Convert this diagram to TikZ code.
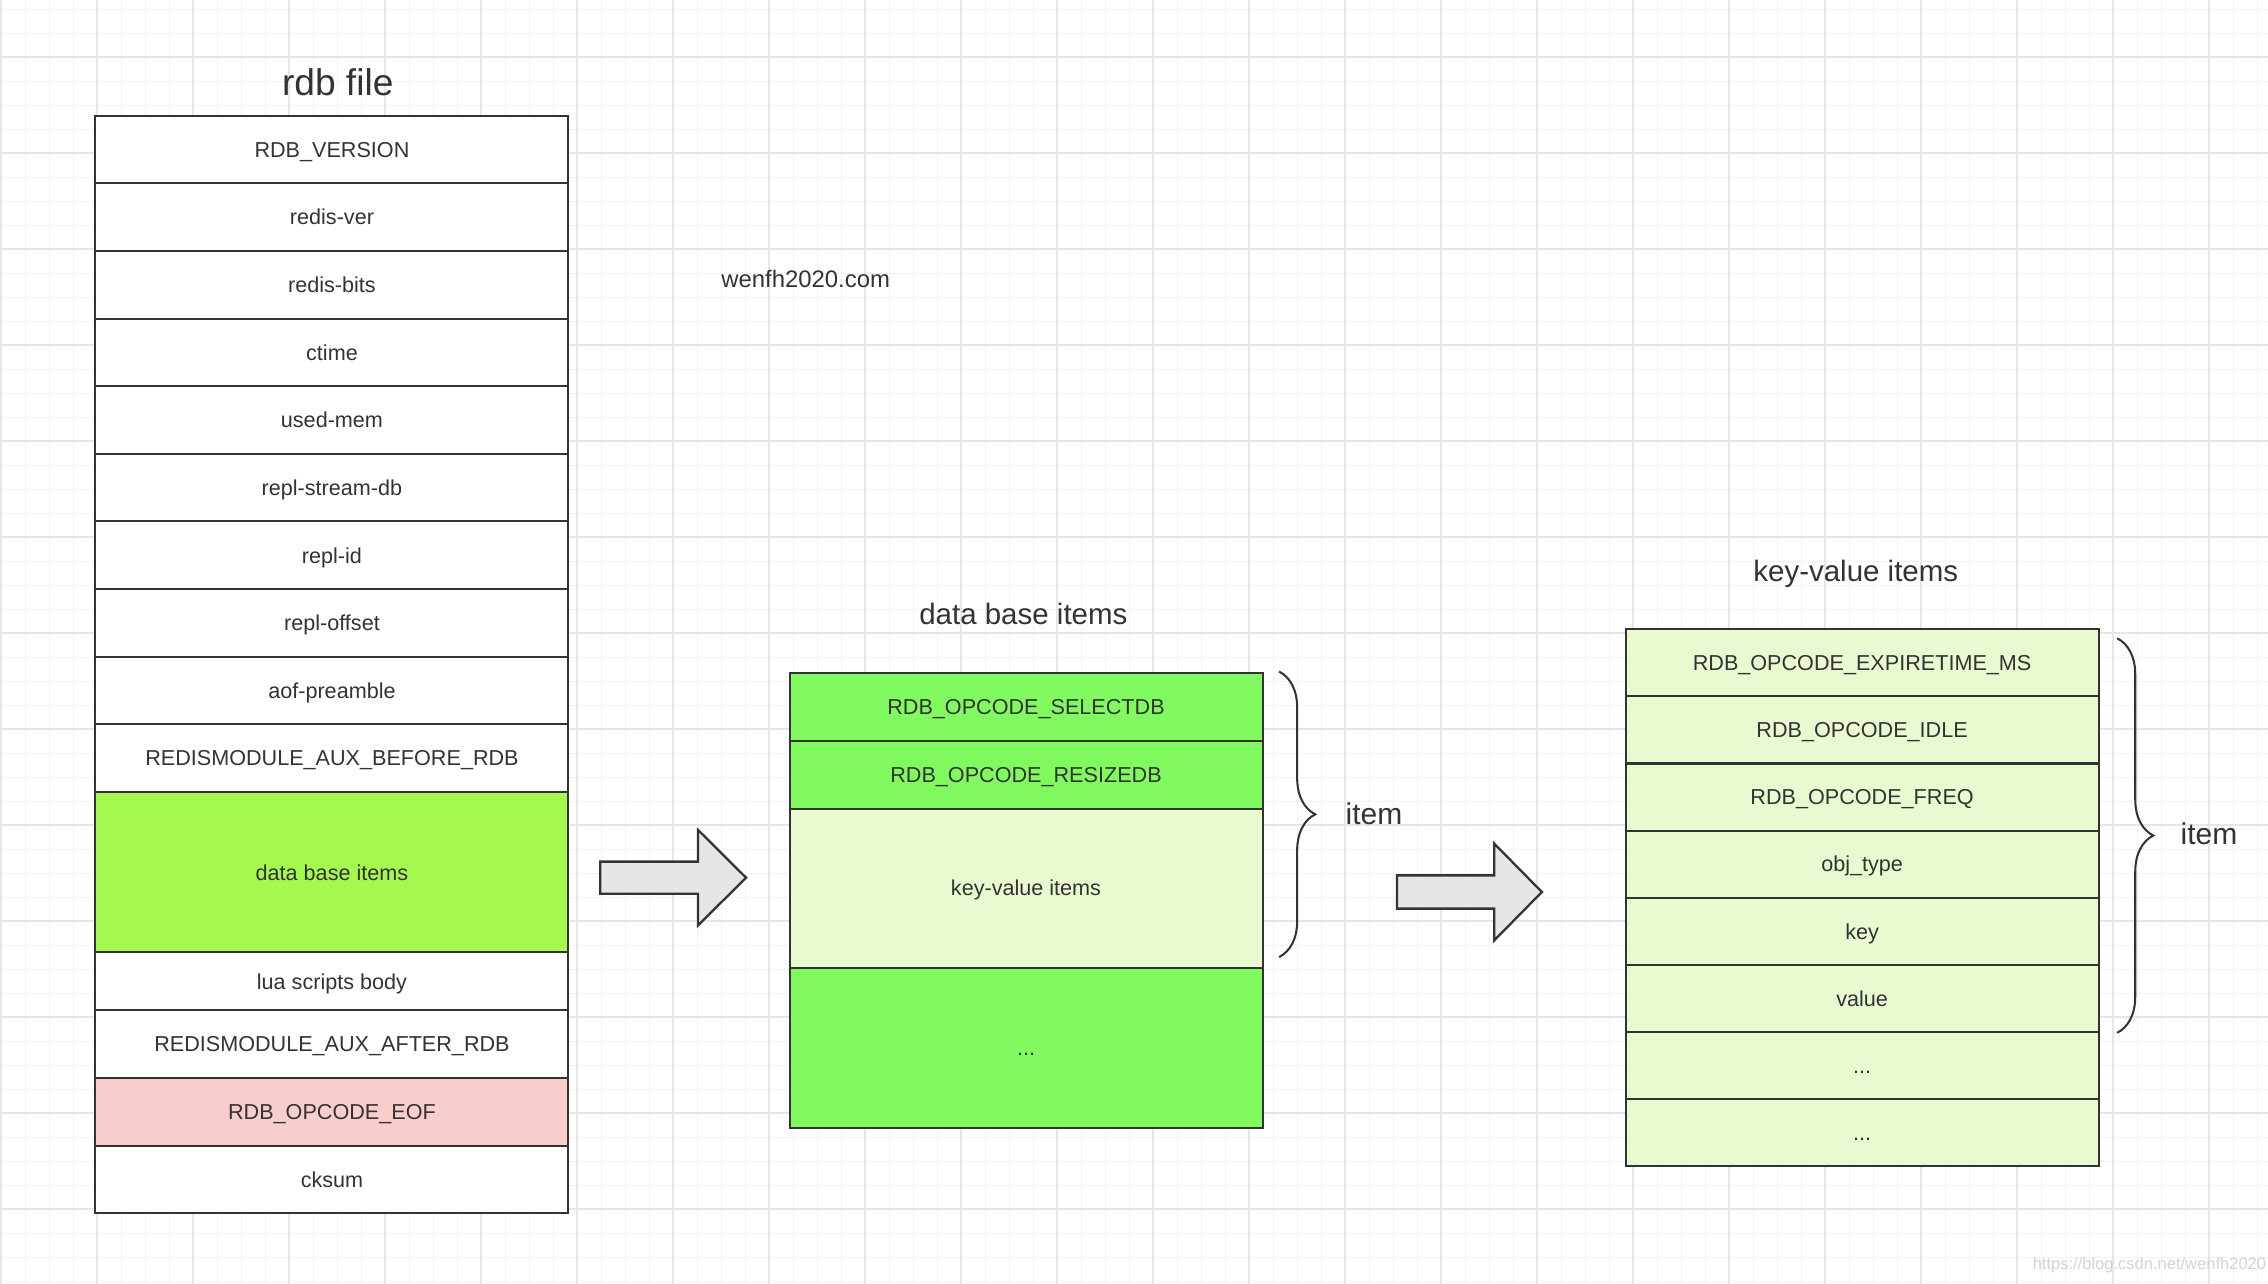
\documentclass[tikz,border=0pt]{standalone}
\usepackage{fontspec}
\setmainfont{Liberation Sans}
\usepackage{tikz}
\usetikzlibrary{decorations.pathreplacing}
\usepackage{xcolor}
\definecolor{RdbLine}{HTML}{333333}
\definecolor{RdbLime}{HTML}{A3F94E}
\definecolor{RdbGreen}{HTML}{80FA5F}
\definecolor{RdbPale}{HTML}{EAFAD0}
\definecolor{RdbPink}{HTML}{F8CECC}
\definecolor{RdbArrow}{HTML}{E6E6E6}
\definecolor{RdbGridMinor}{HTML}{F2F2F2}
\definecolor{RdbGridMajor}{HTML}{E6E6E6}
\definecolor{RdbMark}{HTML}{D4D4D4}

\begin{document}
\begin{tikzpicture}[
    cell/.style={draw=RdbLine, line width=0.8pt, fill=white, text=RdbLine, minimum width=6.54cm, minimum height=0.935cm, inner sep=0pt, text height=6.2pt, text depth=0pt, font=\fontsize{8.5}{10}\selectfont},
    heading/.style={text=RdbLine, inner sep=0pt, anchor=base, font=\fontsize{11.6}{14}\selectfont},
    bigarrow/.style={draw=RdbLine, line width=0.9pt, fill=RdbArrow},
    itembrace/.style={draw=RdbLine, line width=0.8pt, decorate, decoration={brace, amplitude=0.5cm}}
]
                % Background grid
                \useasboundingbox (0,0) rectangle (31.36,17.754);
                \fill[white] (0,0) rectangle (31.36,17.754);
                \begin{scope}
                \clip (0,0) rectangle (31.36,17.754);
                \draw[RdbGridMinor, line width=0.4pt, shift={(0.014,0.041)}, step=0.33185] (-0.5,-0.5) grid (31.5,18);
                \draw[RdbGridMajor, line width=0.6pt, shift={(0.014,1.037)}, step=1.3274] (-1.5,-1.5) grid (31.5,17);
                \end{scope}

                % rdb file
                \node[heading, font=\fontsize{14.6}{17}\selectfont] (rdbtitle) at (4.67,16.44) {rdb file};
                \node[cell] (version) at (4.59,15.687) {RDB\_VERSION};
                \node[cell] (redisver) at (4.59,14.752) {redis-ver};
                \node[cell] (redisbits) at (4.59,13.817) {redis-bits};
                \node[cell] (ctime) at (4.59,12.882) {ctime};
                \node[cell] (usedmem) at (4.59,11.947) {used-mem};
                \node[cell] (streamdb) at (4.59,11.012) {repl-stream-db};
                \node[cell] (replid) at (4.59,10.077) {repl-id};
                \node[cell] (reploffset) at (4.59,9.142) {repl-offset};
                \node[cell] (aof) at (4.59,8.207) {aof-preamble};
                \node[cell] (auxbefore) at (4.59,7.272) {REDISMODULE\_AUX\_BEFORE\_RDB};
                \node[cell, fill=RdbLime, minimum height=2.22cm] (dbitems) at (4.59,5.694) {data base items};
                \node[cell, minimum height=0.8cm] (lua) at (4.59,4.184) {lua scripts body};
                \node[cell] (auxafter) at (4.59,3.317) {REDISMODULE\_AUX\_AFTER\_RDB};
                \node[cell, fill=RdbPink] (eof) at (4.59,2.382) {RDB\_OPCODE\_EOF};
                \node[cell] (cksum) at (4.59,1.447) {cksum};

                % Site
                \node[heading, font=\fontsize{9.4}{11}\selectfont] (site) at (11.14,13.774) {wenfh2020.com};

                % Data base items
                \node[heading] (dbtitle) at (14.15,9.114) {data base items};
                \node[cell, fill=RdbGreen, minimum height=0.94cm] (selectdb) at (14.187,7.984) {RDB\_OPCODE\_SELECTDB};
                \node[cell, fill=RdbGreen, minimum height=0.94cm] (resizedb) at (14.187,7.044) {RDB\_OPCODE\_RESIZEDB};
                \node[cell, fill=RdbPale, minimum height=2.2cm] (kvitems) at (14.187,5.474) {key-value items};
                \node[cell, fill=RdbGreen, minimum height=2.22cm] (moredb) at (14.187,3.264) {...};

                % Key-value items
                \node[heading] (kvtitle) at (25.66,9.714) {key-value items};
                \node[cell, fill=RdbPale, minimum height=0.9275cm] (expire) at (25.747,8.588) {RDB\_OPCODE\_EXPIRETIME\_MS};
                \node[cell, fill=RdbPale, minimum height=0.9275cm] (idle) at (25.747,7.661) {RDB\_OPCODE\_IDLE};
                \node[cell, fill=RdbPale, minimum height=0.9275cm] (freq) at (25.747,6.733) {RDB\_OPCODE\_FREQ};
                \node[cell, fill=RdbPale, minimum height=0.9275cm] (objtype) at (25.747,5.806) {obj\_type};
                \node[cell, fill=RdbPale, minimum height=0.9275cm] (key) at (25.747,4.878) {key};
                \node[cell, fill=RdbPale, minimum height=0.9275cm] (value) at (25.747,3.951) {value};
                \node[cell, fill=RdbPale, minimum height=0.9275cm] (morekv) at (25.747,3.023) {...};
                \node[cell, fill=RdbPale, minimum height=0.9275cm] (lastkv) at (25.747,2.096) {...};

                % Arrows
                \draw[bigarrow] (8.30,5.84) -- (9.652,5.84) -- (9.652,6.278) -- (10.316,5.618) -- (9.652,4.958) -- (9.652,5.396) -- (8.30,5.396) -- cycle;
                \draw[bigarrow] (19.316,5.65) -- (20.66,5.65) -- (20.66,6.09) -- (21.32,5.42) -- (20.66,4.75) -- (20.66,5.19) -- (19.316,5.19) -- cycle;

                % Braces
                \draw[itembrace] ([xshift=0.215cm]selectdb.north east) -- ([xshift=0.215cm, yshift=0.16cm]kvitems.south east);
                \node[heading, anchor=base west, font=\fontsize{11.8}{14}\selectfont] (dbitem) at (18.6,6.36) {item};
                \draw[itembrace] ([xshift=0.243cm, yshift=-0.138cm]expire.north east) -- ([xshift=0.243cm]value.south east);
                \node[heading, anchor=base west, font=\fontsize{11.8}{14}\selectfont] (kvitem) at (30.144,6.07) {item};

                % Watermark
                \node[heading, anchor=base east, text=RdbMark, font=\fontsize{6.5}{8}\selectfont] (mark) at (31.34,0.206) {https://blog.csdn.net/wenfh2020};
            \end{tikzpicture}
\end{document}
